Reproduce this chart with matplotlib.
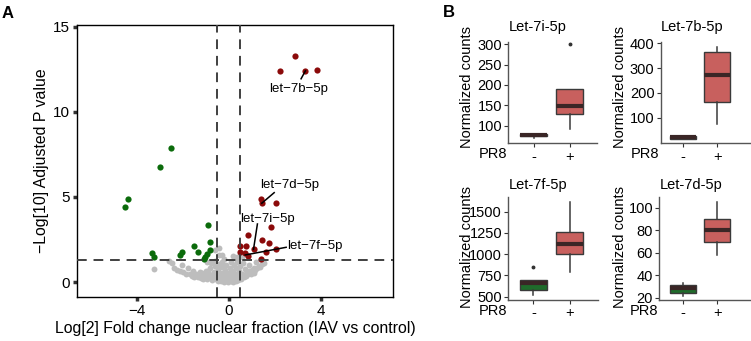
import matplotlib
matplotlib.use("Agg")
import matplotlib.pyplot as plt

plt.rcParams['font.family'] = ['Liberation Sans', 'DejaVu Sans']

# ---------------- Panel A data (volcano) ----------------
up_x = [2.89, 2.24, 3.34, 3.86, 1.40, 1.44, 2.07, 1.83, 0.82, 1.44, 1.77, 0.50, 0.75,
        1.08, 2.05, 0.50, 0.72, 0.82, 1.41, 1.61]
up_y = [13.29, 12.41, 12.41, 12.45, 4.86, 4.63, 4.66, 3.22, 2.76, 2.45, 2.31, 2.12, 2.12,
        1.92, 1.92, 1.74, 1.69, 1.53, 1.34, 1.78]
down_x = [-2.50, -2.99, -4.36, -4.49, -0.89, -0.80, -1.51, -1.33, -0.83, -0.95, -1.02,
          -1.09, -2.04, -2.11, -3.33, -3.23]
down_y = [7.90, 6.73, 4.86, 4.43, 3.35, 2.35, 2.12, 1.76, 1.88, 1.65, 1.47, 1.37, 1.78,
          1.59, 1.69, 1.49]
ns_x = [-3.23, -2.45, -2.38, -2.25, -2.12, -1.98, -1.85, -1.70, -1.60, -1.50, -1.42, -1.35,
        -1.28, -1.20, -1.15, -1.10, -1.05, -1.00, -0.95, -0.90, -0.85, -0.80, -0.78, -0.72,
        -0.70, -0.65, -0.60, -0.58, -0.55, -0.50, -0.48, -0.45, -0.42, -0.40, -0.35, -0.32,
        -0.30, -0.28, -0.25, -0.20, -0.18, -0.15, -0.12, -0.10, -0.05, 0.00, 0.02, 0.05,
        0.08, 0.10, 0.12, 0.15, 0.18, 0.20, 0.22, 0.25, 0.28, 0.30, 0.32, 0.35, 0.38, 0.40,
        0.42, 0.45, 0.48, 0.50, 0.52, 0.55, 0.60, 0.62, 0.65, 0.70, 0.72, 0.75, 0.80, 0.85,
        0.88, 0.90, 0.95, 1.00, 1.05, 1.10, 1.15, 1.20, 1.25, 1.30, 1.38, 1.45, 1.50, 1.55,
        -2.60, -2.05, -1.75, -0.95, -0.44, -0.30, 0.20, 0.35, -0.20, -0.59, -0.44, 0.57,
        -1.55, -1.25, -0.68, -0.05, 0.15, 0.62, 1.12, -0.88, -0.35, 0.30]
ns_y = [0.76, 1.12, 0.85, 0.72, 0.62, 0.58, 0.50, 0.45, 0.38, 0.32, 0.50, 0.28,
        0.42, 0.25, 0.55, 0.20, 0.38, 0.62, 0.15, 0.30, 0.48, 0.80, 1.10, 0.12,
        0.35, 0.60, 0.95, 1.25, 0.20, 0.45, 0.08, 0.75, 1.05, 0.30, 0.05, 0.55,
        0.90, 1.20, 0.18, 0.02, 0.40, 0.70, 1.00, 0.12, 0.00, 0.28, 0.55, 0.85,
        0.06, 1.15, 0.20, 0.42, 0.65, 0.02, 1.00, 0.15, 0.32, 0.80, 0.05, 0.50, 1.20, 0.22,
        0.12, 0.65, 0.38, 0.95, 0.20, 0.30, 0.50, 1.10, 0.28, 0.40, 0.75, 0.35, 0.55, 0.45,
        1.00, 0.62, 0.50, 0.72, 0.60, 0.85, 0.70, 1.15, 0.80, 0.95, 0.90, 1.05, 1.20, 1.10,
        1.22, 1.00, 0.85, 1.20, 1.98, 1.60, 1.50, 1.45, 1.35, 1.88, 1.59, 1.49,
        0.62, 0.60, 0.22, 0.15, 0.10, 0.40, 0.55, 0.62, 0.25, 0.12]

label_names = ["let\u22127b\u22125p", "let\u22127d\u22125p", "let\u22127i\u22125p", "let\u22127f\u22125p"]
label_point = [(3.34, 12.41), (1.44, 4.63), (1.08, 1.92), (0.72, 1.59)]
label_text_pos = [(3.03, 11.33), (2.67, 5.70), (1.70, 3.69), (3.73, 2.12)]
label_line_end = [(3.15, 11.94), (1.98, 5.25), (1.25, 3.41), (2.50, 2.04)]

fc_cut = 0.5
p_cut = 1.3

# ---------------- Panel B data (boxplots) ----------------
box_titles = ["Let-7i-5p", "Let-7b-5p", "Let-7f-5p", "Let-7d-5p"]
groups = ["-", "+"]
# [whislo, q1, med, q3, whishi]
neg_stats = [[71, 74, 78, 80, 81], [16, 17, 22, 29, 29], [520, 579, 657, 696, 696], [21.8, 24, 28.4, 31.4, 33]]
pos_stats = [[91, 128, 148, 190, 190], [77, 162, 273, 363, 386], [794, 999, 1116, 1265, 1610], [58, 70, 80, 90, 105]]
neg_fliers = [[], [], [853], []]
pos_fliers = [[300], [], [], []]
neg_colors = ["#1f6b2b", "#1f6b2b", "#1f6b2b", "#1f6b2b"]
pos_color = "#c8605e"
box_yticks = [[100, 150, 200, 250, 300], [100, 200, 300, 400], [500, 750, 1000, 1250, 1500], [20, 40, 60, 80, 100]]
box_ylims = [(57, 306), (-2, 406), (461, 1676), (18, 110)]

W, H = 751, 341
fig = plt.figure(figsize=(W / 100, H / 100), dpi=100)


def rect(l, r, t, b):
    return [l / W, 1 - b / H, (r - l) / W, (b - t) / H]


# ---------------- Panel A ----------------
ax = fig.add_axes(rect(77, 393, 25, 297))
ax.scatter(ns_x, ns_y, s=18, color="#bdbdbd", linewidths=0, zorder=2)
ax.scatter(down_x, down_y, s=20, color="#0b6b0b", linewidths=0, zorder=3)
ax.scatter(up_x, up_y, s=20, color="#8b0a0a", linewidths=0, zorder=3)
dash = dict(color="#404040", lw=1.4, ls=(0, (5, 3.5)), zorder=4)
ax.axvline(-fc_cut, **dash)
ax.axvline(fc_cut, **dash)
ax.axhline(p_cut, **dash)
for name, pt, tp, le in zip(label_names, label_point, label_text_pos, label_line_end):
    ax.plot([pt[0], le[0]], [pt[1], le[1]], color="black", lw=1.1, zorder=5)
    ax.text(tp[0], tp[1], name, ha="center", va="center", fontsize=9.5, zorder=6)
ax.set_xlim(-6.6, 7.15)
ax.set_ylim(-0.88, 15.1)
ax.set_xticks([-4, 0, 4])
ax.set_yticks([0, 5, 10, 15])
ax.tick_params(length=3, width=2.5, color="#333333", labelsize=11, pad=2)
for s in ax.spines.values():
    s.set_linewidth(1.0)
    s.set_color("black")
ax.set_xlabel("Log[2] Fold change nuclear fraction (IAV vs control)", fontsize=11.4, labelpad=2)
ax.set_ylabel("\u2212Log[10] Adjusted P value", fontsize=11.4, labelpad=3)
fig.text(2 / W, 1 - 6 / H, "A", fontsize=12, fontweight="bold", ha="left", va="top")

# ---------------- Panel B ----------------
fig.text(443 / W, 1 - 5 / H, "B", fontsize=12, fontweight="bold", ha="left", va="top")
box_rects = [rect(508.3, 597, 41.7, 143.3), rect(660.7, 751, 41.7, 143.3),
             rect(508.3, 598, 196.7, 300), rect(659.3, 751, 196.7, 300)]
box_xlims = [(0.295, 2.76), (0.34, 2.98), (0.31, 2.78), (0.31, 2.99)]
ylabel_x = [466.7, 620, 466.7, 620]
ylabel_y = [87.4, 87.4, 246.5, 246.5]
title_y = [27.5, 27.5, 185.5, 185.5]
for i in range(4):
    bx = fig.add_axes(box_rects[i])
    stats = []
    for st, fl in ((neg_stats[i], neg_fliers[i]), (pos_stats[i], pos_fliers[i])):
        stats.append(dict(whislo=st[0], q1=st[1], med=st[2], q3=st[3], whishi=st[4], fliers=fl))
    res = bx.bxp(stats, positions=[1, 2], widths=0.76, patch_artist=True,
                 boxprops=dict(edgecolor="#3a3a3a", linewidth=1.0),
                 medianprops=dict(color="#3a2626", linewidth=3.0, solid_capstyle="butt"),
                 whiskerprops=dict(color="#3a3a3a", linewidth=1.1),
                 capprops=dict(linewidth=0),
                 flierprops=dict(marker="o", markersize=1.8, markerfacecolor="#333333",
                                 markeredgecolor="#333333"))
    res["boxes"][0].set_facecolor(neg_colors[i])
    res["boxes"][1].set_facecolor(pos_color)
    bx.set_xlim(*box_xlims[i])
    bx.set_ylim(*box_ylims[i])
    bx.set_yticks(box_yticks[i])
    bx.set_xticks([1, 2])
    bx.set_xticklabels(groups)
    bx.tick_params(length=3, width=0.8, color="#333333", labelsize=10.5, pad=1.5,
                   labelcolor="black")
    for side in ("top", "right"):
        bx.spines[side].set_visible(False)
    for side in ("left", "bottom"):
        bx.spines[side].set_color("#555555")
        bx.spines[side].set_linewidth(1.0)
    left_px = box_rects[i][0] * W
    bottom_px = (1 - box_rects[i][1]) * H
    fig.text(left_px / W, 1 - title_y[i] / H, box_titles[i], ha="left", va="center",
             fontsize=10.5)
    fig.text((left_px - 1) / W, 1 - (bottom_px + 10.7) / H, "PR8", ha="right", va="center",
             fontsize=10.5)
    fig.text(ylabel_x[i] / W, 1 - ylabel_y[i] / H, "Normalized counts", rotation=90,
             ha="center", va="center", fontsize=10.5)

fig.savefig("out.png", dpi=100)
